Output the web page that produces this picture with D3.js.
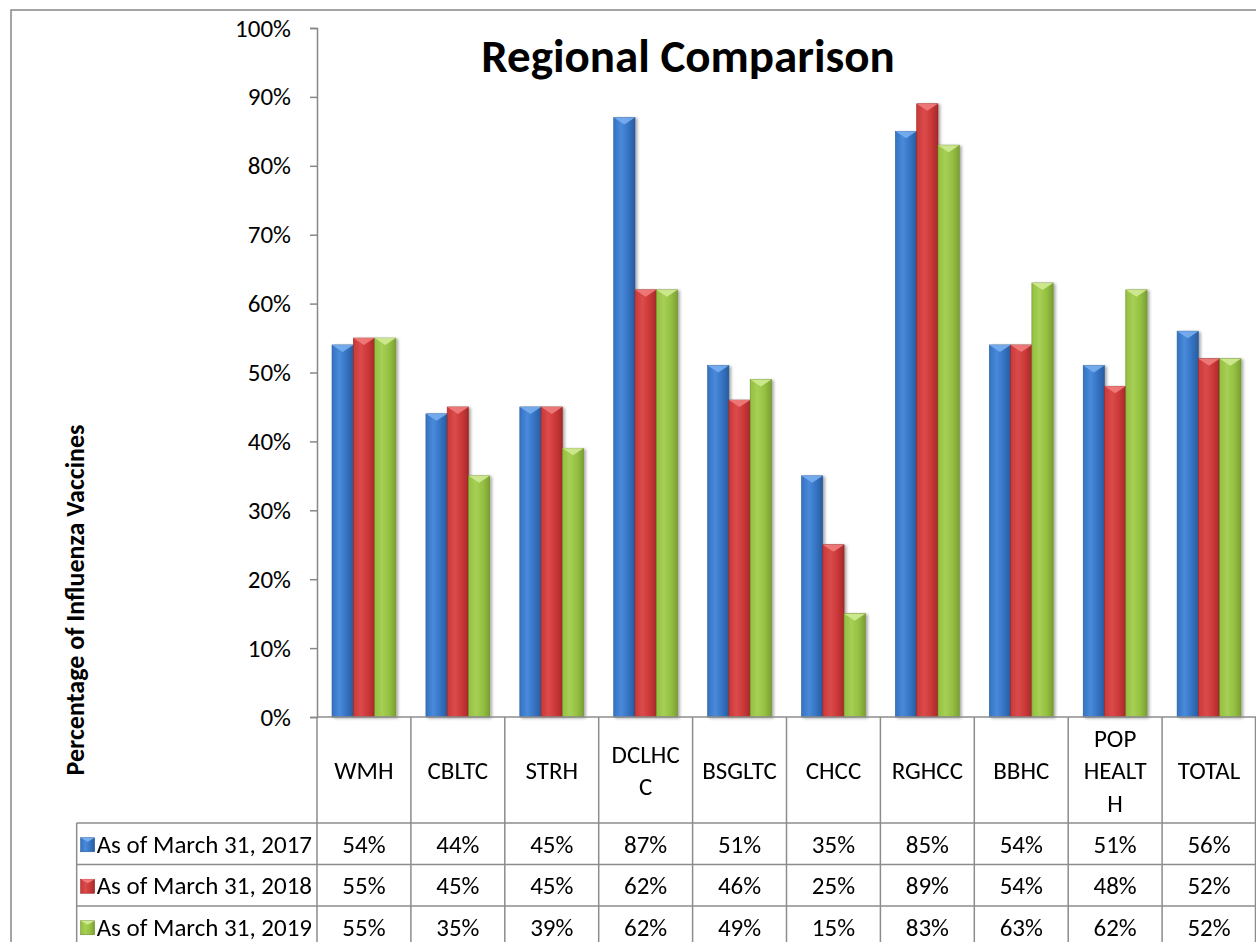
<!DOCTYPE html>
<html><head><meta charset="utf-8">
<script src="https://cdn.jsdelivr.net/npm/d3@7/dist/d3.min.js"></script>
<style>body{margin:0;background:#fff}svg{display:block}</style>
</head><body><svg id="c" width="1256" height="942"></svg>
<script>
const categories = ["WMH","CBLTC","STRH","DCLHCC","BSGLTC","CHCC","RGHCC","BBHC","POP HEALTH","TOTAL"];
const categoryLines = [["WMH"],["CBLTC"],["STRH"],["DCLHC","C"],["BSGLTC"],["CHCC"],["RGHCC"],["BBHC"],["POP","HEALT","H"],["TOTAL"]];
const seriesNames = ["As of March 31, 2017","As of March 31, 2018","As of March 31, 2019"];
const v2017 = [54,44,45,87,51,35,85,54,51,56];
const v2018 = [55,45,45,62,46,25,89,54,48,52];
const v2019 = [55,35,39,62,49,15,83,63,62,52];
const yTicks = [0,10,20,30,40,50,60,70,80,90,100];
const title = "Regional Comparison";
const yTitle = "Percentage of Influenza Vaccines";

const seriesValues = [v2017, v2018, v2019];
const palette = [
  {edgeL:"#3472c2", mid:"#4a8ada", edgeR:"#2a5c9c", top:"#78aef0", stroke:"#2b5a95"},
  {edgeL:"#cb3737", mid:"#da4b4b", edgeR:"#a42a2a", top:"#f07c7c", stroke:"#992626"},
  {edgeL:"#94bf41", mid:"#a6d055", edgeR:"#7a9f33", top:"#d0ea94", stroke:"#6e8f2c"}
];
const FONT = "Carlito, Calibri, Lato, sans-serif";
const FS = 25;
const svg = d3.select("#c");
const defs = svg.append("defs");
palette.forEach((p,i)=>{
  const g = defs.append("linearGradient").attr("id","g"+i).attr("x1","0").attr("x2","1").attr("y1","0").attr("y2","0");
  g.append("stop").attr("offset","0").attr("stop-color",p.edgeL);
  g.append("stop").attr("offset","0.35").attr("stop-color",p.mid);
  g.append("stop").attr("offset","0.7").attr("stop-color",p.edgeL);
  g.append("stop").attr("offset","1").attr("stop-color",p.edgeR);
});
const f = defs.append("filter").attr("id","sh").attr("x","-20%").attr("y","-5%").attr("width","150%").attr("height","115%");
f.append("feGaussianBlur").attr("in","SourceAlpha").attr("stdDeviation",1.5).attr("result","b");
f.append("feOffset").attr("in","b").attr("dx",2).attr("dy",1).attr("result","o");
f.append("feComponentTransfer").attr("in","o").attr("result","o2").append("feFuncA").attr("type","linear").attr("slope",0.35);
const fm = f.append("feMerge"); fm.append("feMergeNode").attr("in","o2"); fm.append("feMergeNode").attr("in","SourceGraphic");

// outer border
svg.append("rect").attr("x",11).attr("y",10).attr("width",1260).attr("height",950)
  .attr("fill","none").attr("stroke","#878787").attr("stroke-width",1.5);

const plotL = 317, plotR = 1256, plotT = 28, plotB = 717;
const y = d3.scaleLinear().domain([0,100]).range([plotB, plotT]);
const xCell = d3.scaleBand().domain(categories).range([plotL, plotR]).padding(0);
const xGroup = d3.scaleBand().domain(categories).range([plotL, plotR]).paddingInner(0.32).paddingOuter(0.16);
const xSer = d3.scaleBand().domain(seriesNames).range([0, xGroup.bandwidth()]);

// title
svg.append("text").attr("x",688).attr("y",72).attr("text-anchor","middle")
  .attr("font-family",FONT).attr("font-weight","bold").attr("font-size",47).text(title);

// y axis
const yAxis = d3.axisLeft(y).tickValues(yTicks).tickFormat(d=>d+"%").tickSize(7).tickPadding(19);
const ga = svg.append("g").attr("transform",`translate(${plotL},0)`).call(yAxis);
ga.select(".domain").attr("stroke","#878787").attr("stroke-width",1.5);
ga.selectAll(".tick line").attr("stroke","#878787").attr("stroke-width",1.5);
ga.selectAll(".tick text").attr("font-family",FONT).attr("font-size",FS).attr("fill","#000");

// y title
svg.append("text").attr("transform","translate(84,600) rotate(-90)").attr("text-anchor","middle")
  .attr("font-family",FONT).attr("font-weight","bold").attr("font-size",26).text(yTitle);

// bars
seriesNames.forEach((s,si)=>{
  const g = svg.append("g").attr("filter","url(#sh)");
  const p = palette[si];
  categories.forEach((c,ci)=>{
    const v = seriesValues[si][ci];
    const bx = xGroup(c) + xSer(s), bw = xSer.bandwidth();
    const by = y(v), bh = y(0) - y(v);
    g.append("rect").attr("x",bx).attr("y",by).attr("width",bw).attr("height",bh)
      .attr("fill",`url(#g${si})`).attr("stroke",p.stroke).attr("stroke-width",0.6);
    g.append("path").attr("d",`M${bx},${by}L${bx+bw},${by}L${bx+bw/2},${by+7}Z`).attr("fill",p.top).attr("opacity",0.9);
  });
});

// table
const gridC = "#8c8c8c";
const hdrB = 823, rowH = 41.5;

// header labels
categories.forEach((c,ci)=>{
  const lines = categoryLines[ci];
  const cx = xCell(c) + xCell.bandwidth()/2;
  const lh = 32.5, cy = (plotB+hdrB)/2;
  lines.forEach((t,li)=>{
    svg.append("text").attr("x",cx).attr("y",cy + (li-(lines.length-1)/2)*lh + 9)
      .attr("text-anchor","middle").attr("font-family",FONT).attr("font-size",FS).text(t);
  });
});
// values and legend labels
let minX = plotL;
seriesNames.forEach((s,si)=>{
  const cy = hdrB + si*rowH + rowH/2 + 9;
  categories.forEach((c,ci)=>{
    svg.append("text").attr("x",xCell(c)+xCell.bandwidth()/2).attr("y",cy).attr("text-anchor","middle")
      .attr("font-family",FONT).attr("font-size",FS).text(seriesValues[si][ci]+"%");
  });
  const t = svg.append("text").attr("x",plotL-5).attr("y",cy).attr("text-anchor","end")
    .attr("font-family",FONT).attr("font-size",FS).text(s);
  const bb = t.node().getBBox();
  const mx = bb.x - 16, my = cy - 15, ms = 14;
  minX = Math.min(minX, mx);
  const p = palette[si];
  svg.append("rect").attr("x",mx).attr("y",my).attr("width",ms).attr("height",ms)
    .attr("fill",`url(#g${si})`).attr("stroke",p.stroke).attr("stroke-width",0.6);
  svg.append("path").attr("d",`M${mx},${my}L${mx+ms},${my}L${mx+ms/2},${my+4}Z`).attr("fill",p.top);
});
const tblL = minX - 4;
const tg = svg.append("g").attr("stroke",gridC).attr("stroke-width",1.5);
tg.append("line").attr("x1",plotL).attr("x2",plotR).attr("y1",plotB).attr("y2",plotB);
categories.forEach(c=>{
  tg.append("line").attr("x1",xCell(c)).attr("x2",xCell(c)).attr("y1",plotB).attr("y2",950);
});
tg.append("line").attr("x1",plotR-0.5).attr("x2",plotR-0.5).attr("y1",plotB).attr("y2",950);
seriesNames.forEach((s,i)=>{
  const yy = hdrB + i*rowH;
  tg.append("line").attr("x1",tblL).attr("x2",plotR).attr("y1",yy).attr("y2",yy);
});
tg.append("line").attr("x1",tblL).attr("x2",tblL).attr("y1",hdrB).attr("y2",950);
</script></body></html>
